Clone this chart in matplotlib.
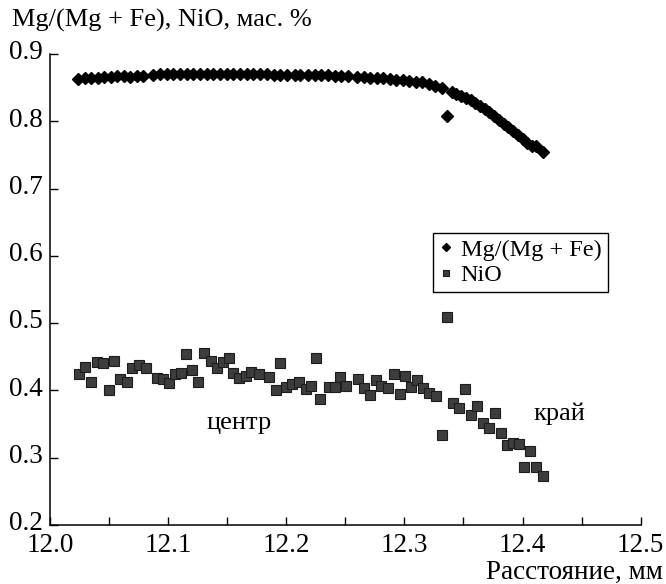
import matplotlib
matplotlib.use("Agg")
import matplotlib.pyplot as plt
from matplotlib.ticker import MultipleLocator
from matplotlib.transforms import ScaledTranslation

plt.rcParams['font.family'] = ['Liberation Serif', 'DejaVu Serif']

# ------- Mg/(Mg + Fe), diamonds ------- #
mg_x = [12.024, 12.0296, 12.035, 12.0405, 12.046, 12.0515, 12.057, 12.0625, 12.068, 12.0735, 12.079,
        12.087, 12.093, 12.099, 12.104, 12.110, 12.116, 12.121, 12.127, 12.133, 12.138, 12.144,
        12.150, 12.155, 12.161, 12.167, 12.172, 12.178,
        12.184, 12.190, 12.195, 12.201, 12.207, 12.212, 12.218, 12.224, 12.229, 12.235, 12.241,
        12.246, 12.252,
        12.260, 12.266, 12.271, 12.277, 12.282, 12.288, 12.293, 12.299, 12.304, 12.310, 12.315,
        12.321, 12.326, 12.332,
        12.336,
        12.340, 12.344, 12.348, 12.352, 12.356, 12.360, 12.364, 12.368, 12.372, 12.376, 12.380,
        12.384, 12.388, 12.392, 12.396, 12.400, 12.404, 12.408, 12.411, 12.417]
mg_y = [0.863, 0.864, 0.865, 0.865, 0.866, 0.866, 0.867, 0.868, 0.866, 0.867, 0.868,
        0.869, 0.870, 0.870, 0.870, 0.870, 0.870, 0.870, 0.871, 0.871, 0.871, 0.870,
        0.871, 0.870, 0.870, 0.870, 0.870, 0.871,
        0.870, 0.869, 0.869, 0.869, 0.869, 0.869, 0.869, 0.869, 0.869, 0.869, 0.868,
        0.868, 0.867,
        0.866, 0.866, 0.865, 0.865, 0.864, 0.863, 0.862, 0.861, 0.860, 0.859, 0.858,
        0.856, 0.853, 0.849,
        0.808,
        0.843, 0.840, 0.837, 0.834, 0.831, 0.827, 0.823, 0.819, 0.814, 0.808, 0.802,
        0.796, 0.791, 0.785, 0.779, 0.773, 0.768, 0.763, 0.763, 0.755]

# ------- NiO, squares ------- #
ni_x = [12.0245, 12.0296, 12.0347, 12.0395, 12.0446, 12.0499, 12.0543, 12.0592, 12.0648, 12.0695,
        12.0755, 12.0809, 12.0902, 12.0953, 12.1006, 12.1057, 12.1113, 12.1150, 12.1206, 12.1254,
        12.1302, 12.1359, 12.1410, 12.1466, 12.1516, 12.1550, 12.1600, 12.1657, 12.1705, 12.1770,
        12.1854, 12.1950, 12.1910, 12.2001, 12.2052, 12.2108, 12.2165, 12.2213, 12.2255, 12.2282,
        12.2361, 12.2409, 12.2457, 12.2508, 12.2606, 12.2654, 12.2705, 12.2756, 12.2804, 12.2860,
        12.2908, 12.2959, 12.3009, 12.3058, 12.3105, 12.3161, 12.3212, 12.3269, 12.3316, 12.3362,
        12.3409, 12.3466, 12.3514, 12.3564, 12.3615, 12.3663, 12.3719, 12.3768, 12.3818, 12.3866,
        12.3917, 12.3973, 12.4066, 12.4015, 12.4114, 12.4176]
ni_y = [0.4245, 0.4345, 0.4122, 0.4428, 0.4413, 0.4007, 0.4438, 0.4166, 0.4122, 0.4330,
        0.4379, 0.4339, 0.4181, 0.4166, 0.4116, 0.4241, 0.4256, 0.4542, 0.4305, 0.4131,
        0.4562, 0.4443, 0.4330, 0.4428, 0.4478, 0.4265, 0.4181, 0.4215, 0.4270, 0.4241,
        0.4196, 0.4413, 0.4007, 0.4056, 0.4097, 0.4131, 0.4018, 0.4067, 0.4478, 0.3869,
        0.4047, 0.4047, 0.4196, 0.4071, 0.4166, 0.4033, 0.3933, 0.4156, 0.4067, 0.4033,
        0.4245, 0.3944, 0.4215, 0.4047, 0.4156, 0.4033, 0.3958, 0.3918, 0.3339, 0.5088,
        0.3810, 0.3736, 0.4018, 0.3636, 0.3770, 0.3522, 0.3438, 0.3661, 0.3373, 0.3190,
        0.3224, 0.3205, 0.3101, 0.2860, 0.2860, 0.2730]

ylabel_text = "Mg/(Mg + Fe), NiO, мас. %"
xlabel_text = "Расстояние, мм"

fig = plt.figure(figsize=(6.66, 5.84), dpi=100)
ax = fig.add_axes([0.075, 0.101, 0.887, 0.8065])

ax.plot(mg_x, mg_y, linestyle="none", marker="D", markersize=6.0,
        color="black", label="Mg/(Mg + Fe)")
ax.plot(ni_x, ni_y, linestyle="none", marker="s", markersize=6.8,
        markerfacecolor="#3d3d3d", markeredgecolor="#1c1c1c", markeredgewidth=0.8,
        label="NiO")

# ------- Оси ------- #
ax.set_xlim(12.0, 12.5)
ax.set_ylim(0.2, 0.9)
ax.xaxis.set_major_locator(MultipleLocator(0.1))
ax.xaxis.set_minor_locator(MultipleLocator(0.05))
ax.yaxis.set_major_locator(MultipleLocator(0.1))
ax.xaxis.set_major_formatter(lambda v, p: f"{v:.1f}")
ax.yaxis.set_major_formatter(lambda v, p: f"{v:.1f}")
ax.spines["top"].set_visible(False)
ax.spines["right"].set_visible(False)
for s in ("left", "bottom"):
    ax.spines[s].set_linewidth(1.1)
ax.tick_params(which="both", direction="in", length=6, width=1.0, labelsize=19.5)
ax.tick_params(axis="y", pad=5)
ax.tick_params(axis="x", pad=6)
# y labels sit a little above their ticks in the original
for lab in ax.get_yticklabels():
    lab.set_transform(lab.get_transform() + ScaledTranslation(0, 3 / 72, fig.dpi_scale_trans))

# ------- Подписи ------- #
fig.text(12 / 666, 1 - 20 / 584, ylabel_text, ha="left", va="center", fontsize=19)
fig.text(663 / 666, 0.02, xlabel_text, ha="right", va="center", fontsize=19.5)
ax.text(12.160, 0.352, "центр", ha="center", va="center", fontsize=19)
ax.text(12.431, 0.365, "край", ha="center", va="center", fontsize=19)

leg = ax.legend(loc="upper left", bbox_to_anchor=(0.648, 0.621), fontsize=17.5,
                frameon=True, fancybox=False, edgecolor="black", framealpha=1,
                handlelength=0.6, handletextpad=0.3, borderpad=0.25,
                labelspacing=0.15, borderaxespad=0, markerscale=0.7)
leg.get_frame().set_linewidth(1.0)

fig.savefig("out.png", dpi=100)
